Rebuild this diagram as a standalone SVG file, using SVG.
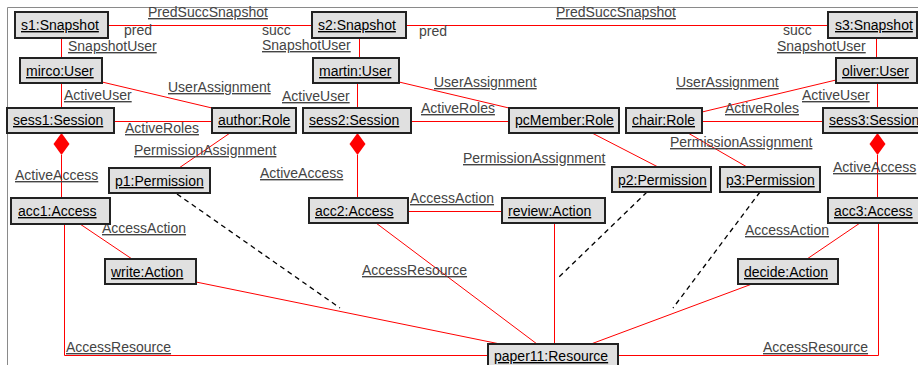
<svg xmlns="http://www.w3.org/2000/svg" width="918" height="365" viewBox="0 0 918 365">
<style>
.node rect{fill:#e0e0e0;stroke:#222;stroke-width:2}
.node text{font-family:"Liberation Sans",Arial,sans-serif;font-size:14px;fill:#000;text-decoration:underline}
.link{stroke:#f00;stroke-width:1;fill:none}
.dash{stroke:#000;stroke-width:1.3;stroke-dasharray:5 4;fill:none}
.comp{fill:#f00;stroke:none}
.lbl{font-family:"Liberation Sans",Arial,sans-serif;font-size:14px;fill:#444;text-decoration:underline}
.role{font-family:"Liberation Sans",Arial,sans-serif;font-size:14px;fill:#444}
</style>
<rect x="0" y="0" width="918" height="365" fill="#fff"/>
<path d="M7.5 365 V7.5 H918" stroke="#8a8a8a" stroke-width="1" fill="none"/>
<g id="connectors">
<path class="link" d="M108 25.5 H312"/>
<path class="link" d="M406 25.5 H828"/>
<path class="link" d="M61.5 38 V58"/>
<path class="link" d="M359.5 38 V58"/>
<path class="link" d="M876.5 38 V58"/>
<path class="link" d="M61.5 83 V108"/>
<path class="link" d="M357.5 83 V108"/>
<path class="link" d="M877.5 83 V108"/>
<path class="link" d="M102 82 L212 108"/>
<path class="link" d="M399 82 L509 108"/>
<path class="link" d="M836 80 L702 112"/>
<path class="link" d="M114 121.5 H212"/>
<path class="link" d="M411 121.5 H509"/>
<path class="link" d="M702 121.5 H823"/>
<path class="link" d="M230 133 L179 168"/>
<path class="link" d="M592 133 L658 167"/>
<path class="link" d="M688 133 L747 167"/>
<path class="link" d="M61.5 155 V198"/>
<polygon class="comp" points="61.5,133 69.5,144 61.5,155 53.5,144"/>
<path class="link" d="M357.5 155 V198"/>
<polygon class="comp" points="357.5,133 365.5,144 357.5,155 349.5,144"/>
<path class="link" d="M877.5 155 V198"/>
<polygon class="comp" points="877.5,133 885.5,144 877.5,155 869.5,144"/>
<path class="link" d="M80 224 L132 259"/>
<path class="link" d="M408 211.5 H502"/>
<path class="link" d="M860 223 L807 259"/>
<path class="link" d="M64.5 224 V355.5 H488"/>
<path class="link" d="M878.5 223 V355.5 H618"/>
<path class="link" d="M376 223 L537 344"/>
<path class="link" d="M196 282 L500 344"/>
<path class="link" d="M554.5 223 V344"/>
<path class="link" d="M752 284 L591 344"/>
<path class="dash" d="M177 194 L340 308"/>
<path class="dash" d="M647 192 L558 278"/>
<path class="dash" d="M760 192 L673 308"/>
<text class="lbl" x="148" y="17">PredSuccSnapshot</text>
<text class="lbl" x="556" y="17">PredSuccSnapshot</text>
<text class="role" x="124" y="35">pred</text>
<text class="role" x="262" y="35">succ</text>
<text class="role" x="419" y="36">pred</text>
<text class="role" x="783" y="35">succ</text>
<text class="lbl" x="68" y="51">SnapshotUser</text>
<text class="lbl" x="262" y="50">SnapshotUser</text>
<text class="lbl" x="777" y="51">SnapshotUser</text>
<text class="lbl" x="64" y="100">ActiveUser</text>
<text class="lbl" x="282" y="101">ActiveUser</text>
<text class="lbl" x="802" y="100">ActiveUser</text>
<text class="lbl" x="168" y="92">UserAssignment</text>
<text class="lbl" x="434" y="87">UserAssignment</text>
<text class="lbl" x="676" y="87">UserAssignment</text>
<text class="lbl" x="125" y="133">ActiveRoles</text>
<text class="lbl" x="421" y="113">ActiveRoles</text>
<text class="lbl" x="725" y="113">ActiveRoles</text>
<text class="lbl" x="134" y="155">PermissionAssignment</text>
<text class="lbl" x="463" y="163">PermissionAssignment</text>
<text class="lbl" x="670" y="147">PermissionAssignment</text>
<text class="lbl" x="15" y="180">ActiveAccess</text>
<text class="lbl" x="260" y="178">ActiveAccess</text>
<text class="lbl" x="833" y="172">ActiveAccess</text>
<text class="lbl" x="102" y="233">AccessAction</text>
<text class="lbl" x="410" y="203">AccessAction</text>
<text class="lbl" x="745" y="235">AccessAction</text>
<text class="lbl" x="66" y="352">AccessResource</text>
<text class="lbl" x="362" y="275">AccessResource</text>
<text class="lbl" x="763" y="352">AccessResource</text>
</g>
<g id="s1" class="node"><rect x="15" y="12" width="93" height="26"/><text x="21" y="30">s1:Snapshot</text></g>
<g id="s2" class="node"><rect x="312" y="12" width="94" height="26"/><text x="318" y="30">s2:Snapshot</text></g>
<g id="s3" class="node"><rect x="828" y="12" width="89" height="26"/><text x="835" y="30">s3:Snapshot</text></g>
<g id="mirco" class="node"><rect x="20" y="58" width="82" height="25"/><text x="26" y="76">mirco:User</text></g>
<g id="martin" class="node"><rect x="313" y="58" width="86" height="25"/><text x="319" y="76">martin:User</text></g>
<g id="oliver" class="node"><rect x="836" y="58" width="81" height="25"/><text x="842" y="76">oliver:User</text></g>
<g id="sess1" class="node"><rect x="7" y="108" width="107" height="25"/><text x="13" y="125">sess1:Session</text></g>
<g id="author" class="node"><rect x="212" y="108" width="84" height="25"/><text x="218" y="125">author:Role</text></g>
<g id="sess2" class="node"><rect x="303" y="108" width="108" height="25"/><text x="309" y="125">sess2:Session</text></g>
<g id="pcMember" class="node"><rect x="509" y="108" width="110" height="25"/><text x="515" y="125">pcMember:Role</text></g>
<g id="chair" class="node"><rect x="626" y="108" width="76" height="25"/><text x="632" y="125">chair:Role</text></g>
<g id="sess3" class="node"><rect x="823" y="108" width="110" height="25"/><text x="829" y="125">sess3:Session</text></g>
<g id="p1" class="node"><rect x="109" y="168" width="101" height="25"/><text x="115" y="186">p1:Permission</text></g>
<g id="p2" class="node"><rect x="612" y="167" width="99" height="25"/><text x="618" y="185">p2:Permission</text></g>
<g id="p3" class="node"><rect x="720" y="167" width="100" height="25"/><text x="726" y="185">p3:Permission</text></g>
<g id="acc1" class="node"><rect x="11" y="198" width="99" height="26"/><text x="18" y="216">acc1:Access</text></g>
<g id="acc2" class="node"><rect x="309" y="198" width="99" height="25"/><text x="315" y="216">acc2:Access</text></g>
<g id="review" class="node"><rect x="502" y="198" width="103" height="25"/><text x="508" y="216">review:Action</text></g>
<g id="acc3" class="node"><rect x="828" y="198" width="100" height="25"/><text x="834" y="216">acc3:Access</text></g>
<g id="write" class="node"><rect x="105" y="259" width="91" height="25"/><text x="111" y="277">write:Action</text></g>
<g id="decide" class="node"><rect x="738" y="259" width="100" height="25"/><text x="744" y="277">decide:Action</text></g>
<g id="paper11" class="node"><rect x="488" y="344" width="130" height="25"/><text x="494" y="361">paper11:Resource</text></g>
</svg>
